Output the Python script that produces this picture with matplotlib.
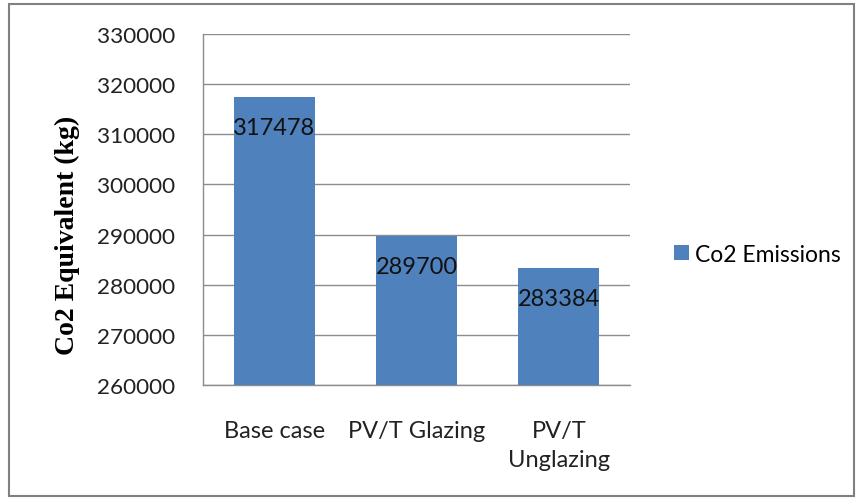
import matplotlib.pyplot as plt
from matplotlib.patches import Rectangle

# --- data ---
categories = ["Base case", "PV/T Glazing", "PV/T\nUnglazing"]
emissions = [317478, 289700, 283384]
series_name = "Co2 Emissions"
y_ticks = [260000, 270000, 280000, 290000, 300000, 310000, 320000, 330000]

BAR_COLOR = "#4F81BD"
GRID_COLOR = "#8C8C8C"
FONT = "Lato"

fig = plt.figure(figsize=(8.62, 5.02), dpi=100)
ax = fig.add_axes([203 / 862, 1 - 386 / 502, 427 / 862, 351 / 502])

x = list(range(len(categories)))
bars = ax.bar(x, emissions, width=0.57, color=BAR_COLOR, label=series_name, zorder=3)

ax.set_xlim(-0.5, len(categories) - 0.5)
ax.set_ylim(y_ticks[0], y_ticks[-1])
ax.set_yticks(y_ticks)
ax.set_yticklabels([str(t) for t in y_ticks], fontsize=16.2, family=FONT, color="#222222")
ax.set_xticks(x)
ax.set_xticklabels(categories, fontsize=17, family=FONT, color="#222222", linespacing=1.5)
ax.tick_params(axis="both", length=0)
ax.tick_params(axis="y", pad=20)
ax.tick_params(axis="x", pad=25)

ax.grid(axis="y", color=GRID_COLOR, linewidth=1, zorder=0)
for side in ["top", "right"]:
    ax.spines[side].set_visible(False)
for side in ["left", "bottom"]:
    ax.spines[side].set_color(GRID_COLOR)
    ax.spines[side].set_linewidth(1)

# value labels inside the bar tops
for b, v in zip(bars, emissions):
    ax.annotate(str(v), (b.get_x() + b.get_width() / 2, v), xytext=(0, -22),
                textcoords="offset points", ha="center", va="center",
                fontsize=17, family=FONT, color="#111111", zorder=4)

ax.set_ylabel("Co2 Equivalent (kg)", fontsize=20, fontweight="bold",
              family="Liberation Serif")
ax.yaxis.set_label_coords(-123 / 427, (386 - 235) / 351)

leg = fig.legend(loc="center left", bbox_to_anchor=(653 / 862, 1 - 255 / 502),
                 frameon=False, prop={"family": FONT, "size": 16.5},
                 handlelength=0.65, handleheight=0.65, handletextpad=0.3)

# outer chart border
fig.patches.append(Rectangle((9 / 862, 5 / 502), 845 / 862, 492 / 502,
                             transform=fig.transFigure, fill=False,
                             edgecolor="#808080", linewidth=1.5))

fig.savefig("out.png", dpi=100)
